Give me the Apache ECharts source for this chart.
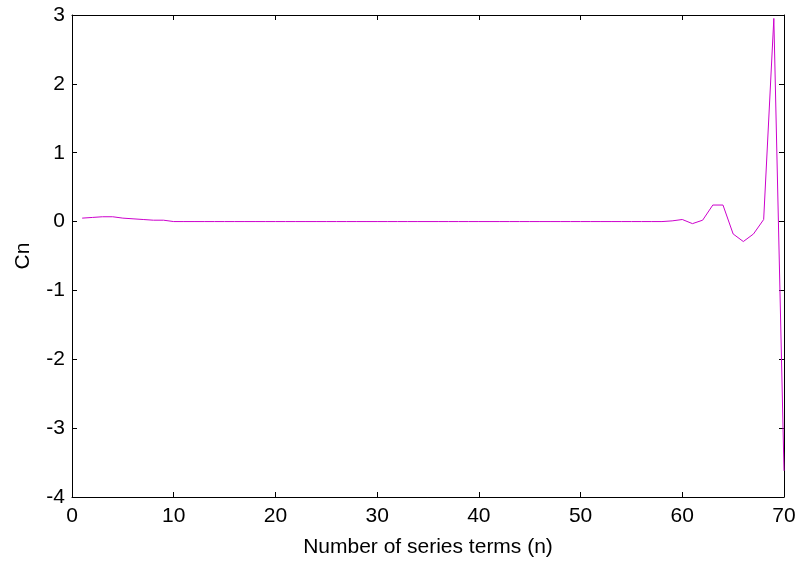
<!DOCTYPE html>
<html>
<head>
<meta charset="utf-8">
<script src="https://cdn.jsdelivr.net/npm/echarts@6/dist/echarts.min.js"></script>
<style>
  html, body { margin: 0; padding: 0; background: #fff; }
  #chart { width: 799px; height: 567px; }
</style>
</head>
<body>
<div id="chart"></div>
<script>
// series terms n = 1..70
const terms = [];
for (let i = 1; i <= 70; i++) terms.push(i);

// Cn values
const cn = [
  0.05, 0.06, 0.07, 0.07, 0.05, 0.04, 0.03, 0.02, 0.02, 0,
  0, 0, 0, 0, 0, 0, 0, 0, 0, 0,
  0, 0, 0, 0, 0, 0, 0, 0, 0, 0,
  0, 0, 0, 0, 0, 0, 0, 0, 0, 0,
  0, 0, 0, 0, 0, 0, 0, 0, 0, 0,
  0, 0, 0, 0, 0, 0, 0, 0, 0.01, 0.03,
  -0.03, 0.02, 0.24, 0.24, -0.18, -0.29, -0.18, 0.03, 2.95, -3.62
];

const xTicks = [0, 10, 20, 30, 40, 50, 60, 70];
const yTicks = [-4, -3, -2, -1, 0, 1, 2, 3];

const chart = echarts.init(document.getElementById('chart'));

const axisLine = { show: true, onZero: false, lineStyle: { color: '#000', width: 1 } };
const tickIn = { show: true, inside: true, length: 5, lineStyle: { color: '#000' } };
const labelFont = { color: '#000', fontFamily: 'Liberation Sans, Arial, sans-serif', fontSize: 21 };

const xBase = {
  type: 'value',
  min: xTicks[0],
  max: xTicks[xTicks.length - 1],
  interval: 10,
  axisLine: axisLine,
  axisTick: tickIn,
  splitLine: { show: false }
};
const yBase = {
  type: 'value',
  min: yTicks[0],
  max: yTicks[yTicks.length - 1],
  interval: 1,
  axisLine: axisLine,
  axisTick: tickIn,
  splitLine: { show: false }
};

chart.setOption({
  animation: false,
  grid: { left: 72, right: 15, top: 15, bottom: 70 },
  xAxis: [
    Object.assign({}, xBase, {
      position: 'bottom',
      name: 'Number of series terms (n)',
      nameLocation: 'middle',
      nameGap: 40,
      nameTextStyle: labelFont,
      axisLabel: Object.assign({ margin: 9 }, labelFont)
    }),
    Object.assign({}, xBase, { position: 'top', axisLabel: { show: false } })
  ],
  yAxis: [
    Object.assign({}, yBase, {
      position: 'left',
      name: 'Cn',
      nameLocation: 'middle',
      nameGap: 38,
      nameTextStyle: labelFont,
      axisLabel: Object.assign({ margin: 7 }, labelFont)
    }),
    Object.assign({}, yBase, { position: 'right', axisLabel: { show: false } })
  ],
  series: [{
    type: 'line',
    data: terms.map((n, i) => [n, cn[i]]),
    showSymbol: false,
    lineStyle: { color: '#cc00cc', width: 1 },
    itemStyle: { color: '#cc00cc' }
  }]
});
</script>
</body>
</html>
